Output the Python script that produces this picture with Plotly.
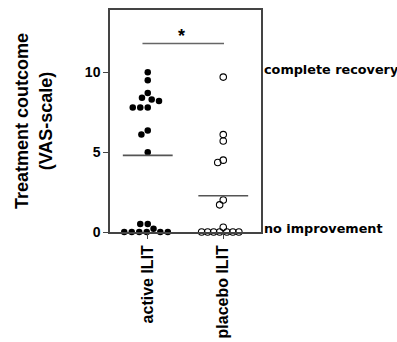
import math
import plotly.graph_objects as go

categories = ["active ILIT", "placebo ILIT"]
active_vals = [10.0, 9.5, 8.7, 8.4, 8.3, 8.2, 7.8, 7.8, 7.8, 6.35, 6.1, 5.0,
               0.5, 0.5, 0.2, 0, 0, 0, 0, 0, 0]
placebo_vals = [9.7, 6.1, 5.7, 4.5, 4.35, 2.0, 1.7, 0.3, 0, 0, 0, 0, 0, 0, 0]
group_lines = [4.8, 2.27]
y_ticks = [0, 5, 10]
right_labels = ["complete recovery", "no improvement"]
right_label_vals = [10.15, 0.2]
sig_y = 11.8

W, H = 397, 342
ML, MR, MT, MB = 110, 136, 10, 110
YMAX = 13.9
XR = [0.5, 2.5]
PY = (H - MT - MB) / YMAX
PX = (W - ML - MR) / (XR[1] - XR[0])


def swarm(vals, d=7.0):
    placed, offs = [], []
    for v in vals:
        y = v * PY
        cands = [0.0]
        for px, py in placed:
            dy = abs(py - y)
            if dy < d:
                dx = math.sqrt(d * d - dy * dy)
                cands += [px - dx, px + dx]
        cands.sort(key=lambda c: (round(abs(c), 6), c))
        chosen = 0.0
        for c in cands:
            if all((c - px) ** 2 + (y - py) ** 2 >= d * d - 1e-6 for px, py in placed):
                chosen = c
                break
        placed.append((chosen, y))
        offs.append(chosen / PX)
    return offs


fig = go.Figure()
pos = [1, 2]
a_off = swarm(active_vals, d=7.5)
p_off = swarm(placebo_vals, d=6.0)
fig.add_trace(go.Scatter(
    x=[pos[0] + o for o in a_off], y=active_vals, mode="markers",
    marker=dict(symbol="circle", size=6.5, color="black", line=dict(width=0)),
    cliponaxis=False, showlegend=False))
fig.add_trace(go.Scatter(
    x=[pos[1] + o for o in p_off], y=placebo_vals, mode="markers",
    marker=dict(symbol="circle-open", size=6.5, color="black", line=dict(width=1.1)),
    cliponaxis=False, showlegend=False))
for p, m in zip(pos, group_lines):
    fig.add_trace(go.Scatter(x=[p - 0.33, p + 0.33], y=[m, m], mode="lines",
                             line=dict(color="#555555", width=1.6),
                             showlegend=False, hoverinfo="skip"))

fig.add_shape(type="line", xref="x", yref="y", x0=0.93, x1=2.01, y0=sig_y, y1=sig_y,
              line=dict(color="#666666", width=1.6))
fig.add_annotation(x=1.45, y=sig_y - 0.25, xref="x", yref="y", text="<b>*</b>",
                   showarrow=False, font=dict(size=18, color="black", family="Liberation Sans"),
                   yanchor="bottom")
for t, v in zip(right_labels, right_label_vals):
    fig.add_annotation(x=1, y=v, xref="paper", yref="y", text="<b>" + t + "</b>",
                       showarrow=False, xanchor="left", xshift=1,
                       font=dict(size=12.8, color="black", family="DejaVu Sans"))

fig.update_layout(
    width=W, height=H, margin=dict(l=ML, r=MR, t=MT, b=MB, autoexpand=False),
    plot_bgcolor="white", paper_bgcolor="white",
    font=dict(family="Liberation Sans", color="black"),
    xaxis=dict(range=XR, tickvals=pos, ticktext=["<b>" + c + "</b>" for c in categories],
               tickangle=-90, ticks="outside", ticklen=5, tickcolor="#444444",
               showline=True, linecolor="#444444", linewidth=1.5, mirror=True,
               showgrid=False, zeroline=False, tickfont=dict(size=16), automargin=False),
    yaxis=dict(range=[0, YMAX], tickvals=y_ticks, ticktext=["<b>%d</b>" % v for v in y_ticks],
               ticks="outside", ticklen=5, tickcolor="#444444",
               showline=True, linecolor="#444444", linewidth=1.5, mirror=True,
               showgrid=False, zeroline=False, tickfont=dict(size=14), automargin=False,
               title=dict(text="<b>Treatment coutcome<br>(VAS-scale)</b>",
                          font=dict(size=18), standoff=28)),
)
fig.write_html("out.html", config={"displayModeBar": False},
               post_script="document.body.style.margin='0px';")
